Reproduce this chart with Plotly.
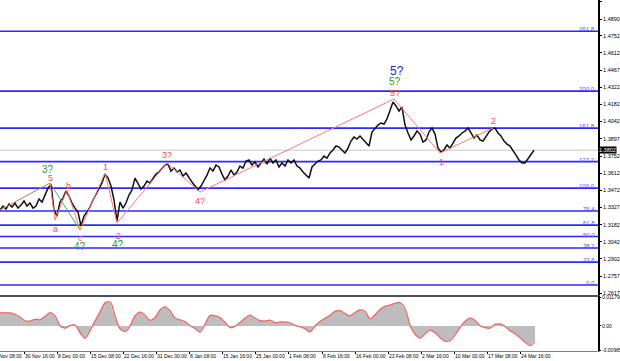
import numpy as np
import plotly.graph_objects as go

# ---------------- data ----------------
# close prices sampled every 3 H4 bars
price_close = [
    1.3306, 1.3339, 1.3314, 1.3356, 1.3331, 1.3364, 1.3322, 1.3347, 1.3381, 1.3339,
    1.3364, 1.3322, 1.3339, 1.3397, 1.3372, 1.3430, 1.3488, 1.3521, 1.3306, 1.3256,
    1.3372, 1.3405, 1.3463, 1.3422, 1.3364, 1.3322, 1.3289, 1.3173, 1.3256, 1.3289,
    1.3331, 1.3389, 1.3439, 1.3488, 1.3530, 1.3604, 1.3571, 1.3505, 1.3389, 1.3215,
    1.3372, 1.3322, 1.3364, 1.3430, 1.3472, 1.3571, 1.3521, 1.3480, 1.3505, 1.3546,
    1.3530, 1.3571, 1.3604, 1.3621, 1.3654, 1.3679, 1.3687, 1.3629, 1.3654, 1.3621,
    1.3638, 1.3588, 1.3613, 1.3571, 1.3538, 1.3505, 1.3472, 1.3505, 1.3546, 1.3596,
    1.3654, 1.3629, 1.3679, 1.3663, 1.3604, 1.3555, 1.3588, 1.3638, 1.3596, 1.3621,
    1.3671, 1.3654, 1.3712, 1.3721, 1.3679, 1.3704, 1.3663, 1.3696, 1.3729, 1.3687,
    1.3737, 1.3696, 1.3721, 1.3663, 1.3696, 1.3671, 1.3721, 1.3696, 1.3721, 1.3671,
    1.3654, 1.3621, 1.3596, 1.3571, 1.3663, 1.3687, 1.3712, 1.3721, 1.3754, 1.3737,
    1.3779, 1.3804, 1.3837, 1.3828, 1.3804, 1.3779, 1.3820, 1.3878, 1.3911, 1.3895,
    1.3920, 1.3895, 1.3870, 1.3837, 1.3953, 1.3986, 1.4011, 1.4028, 1.4019, 1.4061,
    1.4135, 1.4202, 1.4169, 1.4127, 1.4160, 1.4011, 1.3945, 1.3887, 1.3920, 1.3961,
    1.3936, 1.3870, 1.3887, 1.3953, 1.3986, 1.3936, 1.3820, 1.3787, 1.3804, 1.3845,
    1.3820, 1.3862, 1.3903, 1.3920, 1.3945, 1.3961, 1.3986, 1.3945, 1.3903, 1.3928,
    1.3887, 1.3878, 1.3920, 1.3953, 1.3978, 1.3986, 1.3945, 1.3920, 1.3878, 1.3853,
    1.3837, 1.3804, 1.3762, 1.3721, 1.3696, 1.3696, 1.3729, 1.3762, 1.3802,
]
price_bar = list(range(0, 3 * len(price_close), 3))

# oscillator (histogram) and its signal line, sampled every 5 bars
osc_hist = [
    0.00529, 0.00529, 0.00529, 0.00447, 0.00325, 0.00163, 0.00203, 0.00285, 0.00244, 0.00407,
    0.00569, 0.00366, -0.00041, -0.00081, 0.00041, 0.00041, -0.00325, -0.00488, -0.00122, 0.00244,
    0.00610, 0.00976, 0.00935, 0.00325, -0.00163, -0.00203, 0.00041, 0.00447, 0.00569, 0.00407,
    0.00203, 0.00366, 0.00691, 0.00773, 0.00569, 0.00285, 0.00244, 0.00163, 0.00000, -0.00122,
    -0.00244, 0.00122, 0.00447, 0.00407, 0.00325, 0.00122, -0.00081, 0.00000, 0.00163, 0.00325,
    0.00447, 0.00285, 0.00203, 0.00203, 0.00244, 0.00122, 0.00163, 0.00163, 0.00122, 0.00000,
    -0.00041, -0.00122, -0.00244, 0.00041, 0.00203, 0.00325, 0.00447, 0.00610, 0.00610, 0.00488,
    0.00407, 0.00569, 0.00651, 0.00569, 0.00244, 0.00488, 0.00691, 0.00813, 0.00854, 0.00935,
    0.00935, 0.00651, -0.00041, -0.00366, -0.00488, -0.00285, -0.00163, -0.00285, -0.00488, -0.00610,
    -0.00569, -0.00325, -0.00041, 0.00203, 0.00325, 0.00203, 0.00000, -0.00081, -0.00081, 0.00081,
    0.00081, -0.00041, -0.00203, -0.00325, -0.00488, -0.00651, -0.00773, -0.00610,
]
osc_signal = [
    0.00540, 0.00535, 0.00530, 0.00470, 0.00360, 0.00210, 0.00200, 0.00270, 0.00260, 0.00380,
    0.00540, 0.00420, 0.00020, -0.00090, 0.00010, 0.00050, -0.00260, -0.00500, -0.00190, 0.00190,
    0.00560, 0.00930, 0.00980, 0.00420, -0.00110, -0.00230, -0.00010, 0.00400, 0.00560, 0.00440,
    0.00230, 0.00330, 0.00650, 0.00780, 0.00620, 0.00320, 0.00250, 0.00180, 0.00020, -0.00100,
    -0.00250, 0.00060, 0.00420, 0.00420, 0.00340, 0.00150, -0.00060, -0.00020, 0.00140, 0.00310,
    0.00440, 0.00320, 0.00220, 0.00200, 0.00240, 0.00140, 0.00160, 0.00160, 0.00130, 0.00020,
    -0.00030, -0.00110, -0.00240, -0.00010, 0.00180, 0.00310, 0.00430, 0.00590, 0.00620, 0.00510,
    0.00410, 0.00540, 0.00650, 0.00600, 0.00290, 0.00450, 0.00670, 0.00800, 0.00850, 0.00920,
    0.00950, 0.00720, 0.00040, -0.00330, -0.00500, -0.00320, -0.00180, -0.00270, -0.00470, -0.00620,
    -0.00600, -0.00370, -0.00070, 0.00180, 0.00320, 0.00230, 0.00020, -0.00070, -0.00090, 0.00060,
    0.00080, -0.00020, -0.00190, -0.00320, -0.00480, -0.00660, -0.00800, -0.00660,
]
osc_bar = list(range(0, 5 * len(osc_hist), 5))

# Elliott wave path (red) and auxiliary segments
wave_bar = [50, 55, 67, 80, 105, 117, 167, 200, 394, 440, 493]
wave_price = [1.3530, 1.3223, 1.3472, 1.3140, 1.3613, 1.3198, 1.3696, 1.3455, 1.4227, 1.3779, 1.3986]
brown_bar = [0, 50]
brown_price = [1.3306, 1.3530]
green_bar = [50, 80]
green_price = [1.3530, 1.3140]

# wave labels
label_text = ["3?", "5", "a", "b", "c", "4?", "1", "2", "4?", "3?", "4?", "5?", "5?", "5?", "1", "2"]
label_bar = [48, 50, 55, 68, 80, 80, 105, 118, 118, 167, 200, 395, 395, 397, 441, 493]
label_price = [1.3638, 1.3571, 1.3148, 1.3505, 1.3078, 1.3007, 1.3663, 1.3090, 1.3024, 1.3762,
               1.3381, 1.4276, 1.4368, 1.4459, 1.3704, 1.4044]
label_kind = ["g", "r", "r", "r", "r", "g", "r", "r", "g", "r", "r", "r", "g", "b", "r", "r"]

# Fibonacci levels
fib_names = ["261.8", "200.0", "161.8", "127.2", "100.0", "76.4", "61.8", "50.0", "38.2", "23.6", "0.0"]
fib_prices = [1.4789, 1.4292, 1.3985, 1.3707, 1.3488, 1.3298, 1.3181, 1.3086, 1.2991, 1.2874, 1.2684]

# axis labels
price_ticks = [1.5037, 1.4890, 1.4752, 1.4612, 1.4467, 1.4322, 1.4182, 1.4042, 1.3897, 1.3752,
               1.3612, 1.3472, 1.3327, 1.3182, 1.3042, 1.2902, 1.2757, 1.2617]
osc_ticks = [0.01179, 0.0, -0.00985]
osc_tick_text = ["0.01179", "0.00", "-0.00985"]
time_labels = ["23 Nov 08:00", "30 Nov 16:00", "8 Dec 00:00", "15 Dec 08:00", "22 Dec 16:00",
               "31 Dec 00:00", "8 Jan 08:00", "15 Jan 16:00", "25 Jan 00:00", "1 Feb 08:00",
               "8 Feb 16:00", "16 Feb 00:00", "23 Feb 08:00", "2 Mar 16:00", "10 Mar 00:00",
               "17 Mar 08:00", "24 Mar 16:00"]
time_label_bar = [-9, 24, 57, 90, 123, 156, 189, 222, 255, 288, 322, 355, 388, 421, 454, 487, 520]
last_price = 1.3802

# ---------------- figure ----------------
FONT = "Liberation Sans, Arial, sans-serif"
fig = go.Figure()

for name, p in zip(fib_names, fib_prices):
    fig.add_trace(go.Scatter(x=[0, 598], y=[p, p], mode="lines", xaxis="x", yaxis="y",
                             line=dict(color="#2a2aff", width=1.6), hoverinfo="skip", showlegend=False))
    fig.add_annotation(x=596, y=p, xref="x", yref="y", text=name, showarrow=False,
                       xanchor="right", yanchor="bottom", yshift=-2, borderpad=0,
                       font=dict(family=FONT, size=6, color="#5050ff"))

fig.add_trace(go.Scatter(x=[0, 598], y=[last_price, last_price], mode="lines", xaxis="x", yaxis="y",
                         line=dict(color="#c8c8c8", width=1), hoverinfo="skip", showlegend=False))

fig.add_trace(go.Scatter(x=price_bar, y=price_close, mode="lines", xaxis="x", yaxis="y",
                         line=dict(color="#111111", width=1.5), showlegend=False))

fig.add_trace(go.Scatter(x=brown_bar, y=brown_price, mode="lines", xaxis="x", yaxis="y",
                         line=dict(color="#c07840", width=1), showlegend=False))
fig.add_trace(go.Scatter(x=green_bar, y=green_price, mode="lines", xaxis="x", yaxis="y",
                         line=dict(color="#50b050", width=1), showlegend=False))
fig.add_trace(go.Scatter(x=wave_bar, y=wave_price, mode="lines", xaxis="x", yaxis="y",
                         line=dict(color="#ff7878", width=1), showlegend=False))

colors = {"r": "#ff4a4a", "g": "#2f9a2f", "b": "#2222dd"}
sizes = {"r": 9, "g": 10, "b": 12}
for t, b, p, k in zip(label_text, label_bar, label_price, label_kind):
    fig.add_annotation(x=b, y=p, xref="x", yref="y", text=t, showarrow=False, borderpad=0,
                       font=dict(family=FONT, size=sizes[k], color=colors[k]))

fig.add_trace(go.Scatter(x=osc_bar, y=osc_hist, mode="lines", xaxis="x2", yaxis="y2",
                         fill="tozeroy", fillcolor="#bdbdbd", line=dict(color="#bdbdbd", width=0.5),
                         showlegend=False))
fig.add_trace(go.Scatter(x=osc_bar, y=osc_signal, mode="lines", xaxis="x2", yaxis="y2",
                         line=dict(color="#f06a6a", width=1.3, shape="spline"), showlegend=False))

# time labels under the oscillator pane (first one starts before the left edge)
for t, b in zip(time_labels, time_label_bar):
    fig.add_annotation(x=max(b, 0), y=0, xref="x2", yref="paper", text=t, showarrow=False,
                       xanchor="left", yanchor="top", borderpad=0, yshift=-1,
                       xshift=min(b, 0),
                       font=dict(family=FONT, size=5, color="#000000"))

# last price box on axis
fig.add_annotation(x=1.0, y=last_price, xref="paper", yref="y", text=f"{last_price:.4f}",
                   showarrow=False, xanchor="left", xshift=0, bgcolor="#000000",
                   font=dict(family=FONT, size=5.5, color="#ffffff"), borderpad=0)

tickfont = dict(family=FONT, size=5.5, color="#000000")
fig.update_layout(
    width=620, height=361,
    margin=dict(l=0, r=22, t=0, b=10, autoexpand=False),
    paper_bgcolor="#ffffff", plot_bgcolor="#ffffff",
    showlegend=False,
    xaxis=dict(domain=[0, 1], range=[0, 598], anchor="y", showticklabels=False, showgrid=False,
               zeroline=False, showline=True, linecolor="#505050", linewidth=2, ticks="",
               automargin=False),
    yaxis=dict(domain=[0.1595, 1], range=[1.2601, 1.5048], side="right", anchor="x",
               tickvals=price_ticks, ticktext=[f"{v:.4f}" for v in price_ticks],
               tickfont=tickfont, ticks="outside", ticklen=2, tickcolor="#000",
               showgrid=False, zeroline=False, showline=True, linecolor="#000", linewidth=2,
               automargin=False),
    xaxis2=dict(domain=[0, 1], range=[0, 598], anchor="y2", matches="x",
                tickvals=time_label_bar, showticklabels=False,
                ticks="outside", ticklen=2, tickcolor="#000",
                showgrid=False, zeroline=False, showline=True, linecolor="#808080", linewidth=1,
                automargin=False),
    yaxis2=dict(domain=[0, 0.1567], range=[-0.0102, 0.0122], side="right", anchor="x2",
                tickvals=osc_ticks, ticktext=osc_tick_text,
                tickfont=dict(family=FONT, size=5, color="#000000"),
                ticks="outside", ticklen=1, tickcolor="#000",
                showgrid=False, zeroline=False, showline=True, linecolor="#000", linewidth=2,
                automargin=False),
)

fig.write_html("out.html", config={"displayModeBar": False},
               post_script="document.body.style.margin='0';document.body.style.overflow='hidden';")
